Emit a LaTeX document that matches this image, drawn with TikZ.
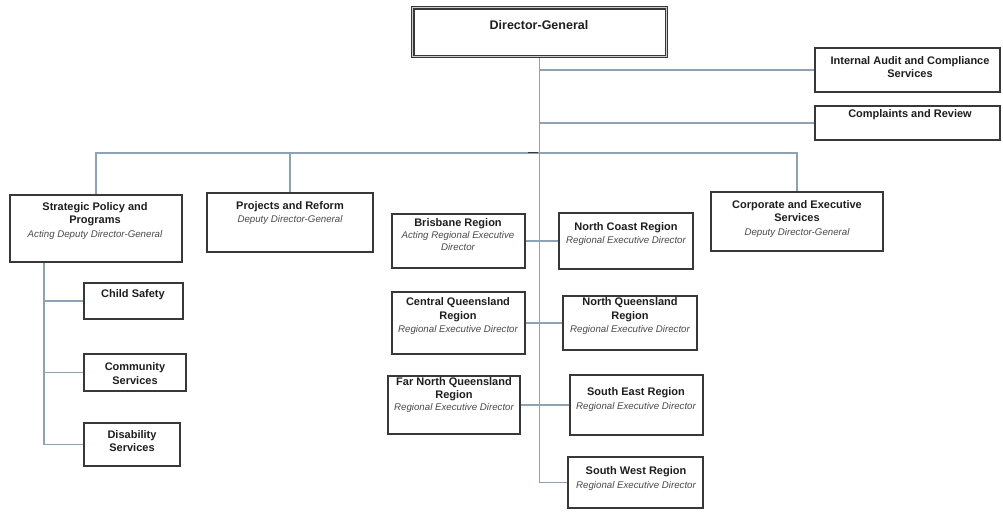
\documentclass[tikz,border=0pt]{standalone}
\usepackage{fontspec}
\setmainfont{Liberation Sans}
\definecolor{linkblue}{HTML}{8EA2B3}
\definecolor{boxline}{HTML}{383838}
\definecolor{headtext}{HTML}{1E1E1E}
\definecolor{roletext}{HTML}{4A4A4A}
\newcommand\unit[1]{{\fontsize{11}{13.5}\selectfont\bfseries\color{headtext}#1}}
\newcommand\role[1]{{\fontsize{9.7}{13.5}\selectfont\itshape\color{roletext}#1}}
\tikzset{
  orgbox/.style={draw=boxline, line width=1.1pt, fill=white, inner sep=0pt},
  topbox/.style={draw=boxline, line width=0.8pt, double=gray!40, double distance=1.4pt, fill=white, inner sep=0pt},
  txt/.style={align=center, inner sep=0pt, font=\fontsize{11}{13.5}\selectfont},
  link/.style={draw=linkblue, line width=1.3pt}
}
\begin{document}
\begin{tikzpicture}[x=1pt,y=-1pt]
\useasboundingbox (0,0) rectangle (1003,512);

% junction points of the reporting lines
\coordinate (bus) at (539,153);
\coordinate (lstem) at (44,262);

% boxes
\node[topbox, minimum width=253pt, minimum height=48pt] (dg) at (539.5,32) {};
\node[orgbox, minimum width=185pt, minimum height=44pt] (audit) at (907.5,70) {};
\node[orgbox, minimum width=185pt, minimum height=34pt] (compl) at (907.5,123) {};
\node[orgbox, minimum width=172pt, minimum height=67pt] (spp) at (96,228.5) {};
\node[orgbox, minimum width=166pt, minimum height=59pt] (proj) at (290,222.5) {};
\node[orgbox, minimum width=172pt, minimum height=59pt] (corp) at (797,221.5) {};
\node[orgbox, minimum width=133pt, minimum height=54pt] (bris) at (458.5,241) {};
\node[orgbox, minimum width=134pt, minimum height=56pt] (ncoast) at (626,241) {};
\node[orgbox, minimum width=133pt, minimum height=62pt] (cq) at (458.5,323) {};
\node[orgbox, minimum width=134pt, minimum height=54pt] (nq) at (630,323) {};
\node[orgbox, minimum width=132pt, minimum height=58pt] (fnq) at (454,405) {};
\node[orgbox, minimum width=133pt, minimum height=60pt] (se) at (636.5,405) {};
\node[orgbox, minimum width=135pt, minimum height=51pt] (sw) at (635.5,482.5) {};
\node[orgbox, minimum width=99pt, minimum height=36pt] (child) at (133.5,301) {};
\node[orgbox, minimum width=102pt, minimum height=37pt] (comm) at (135,372.5) {};
\node[orgbox, minimum width=96pt, minimum height=43pt] (dis) at (132,444.5) {};

% reporting lines
\path[link] (dg.south) |- (sw.west);
\path[link] (audit.west -| dg.south) -- (audit.west);
\path[link] (compl.west -| dg.south) -- (compl.west);
\path[link] (spp.north) |- (bus) -| (corp.north);
\path[link] (proj.north |- bus) -- (proj.north);
\path[link] (bris.east) -- (ncoast.west);
\path[link] (cq.east) -- (nq.west);
\path[link] (fnq.east) -- (se.west);
\path[link] (lstem) |- (dis.west);
\path[link] (child.west -| lstem) -- (child.west);
\path[link] (comm.west -| lstem) -- (comm.west);

% small dark mark on the bus beside the trunk
\coordinate (tickA) at (528,152);
\coordinate (tickB) at (538,152);
\draw[boxline, line width=0.9pt] (tickA) -- (tickB);

% box outlines drawn again over the line ends
\foreach \b in {audit,compl,spp,proj,corp,bris,ncoast,cq,nq,fnq,se,sw,child,comm,dis}
  \draw[boxline, line width=1.1pt] (\b.north west) rectangle (\b.south east);
\draw[boxline, line width=0.8pt, double=gray!40, double distance=1.4pt] (dg.north west) rectangle (dg.south east);

% labels
\node[txt] (dgt) at (539,25) {{\fontsize{12.5}{14}\selectfont\bfseries\color{headtext}Director-General}};
\node[txt] (auditt) at (910,67) {\unit{Internal Audit and Compliance}\\\unit{Services}};
\node[txt] (complt) at (910,115) {\unit{Complaints and Review}};
\node[txt] (sppt) at (95,221) {\unit{Strategic Policy and}\\\unit{Programs}\\\role{Acting Deputy Director-General}};
\node[txt] (projt) at (290,213) {\unit{Projects and Reform}\\\role{Deputy Director-General}};
\node[txt] (corpt) at (797,219) {\unit{Corporate and Executive}\\\unit{Services}\\\role{Deputy Director-General}};
\node[txt, font=\fontsize{11}{12}\selectfont] (brist) at (458,235) {\unit{Brisbane Region}\\\role{Acting Regional Executive}\\\role{Director}};
\node[txt] (ncoastt) at (626,234) {\unit{North Coast Region}\\\role{Regional Executive Director}};
\node[txt] (cqt) at (458,316.5) {\unit{Central Queensland}\\\unit{Region}\\\role{Regional Executive Director}};
\node[txt] (nqt) at (630,316.5) {\unit{North Queensland}\\\unit{Region}\\\role{Regional Executive Director}};
\node[txt, font=\fontsize{11}{12.5}\selectfont] (fnqt) at (454,395.5) {\unit{Far North Queensland}\\\unit{Region}\\\role{Regional Executive Director}};
\node[txt] (set) at (636,399.5) {\unit{South East Region}\\\role{Regional Executive Director}};
\node[txt] (swt) at (636,478.5) {\unit{South West Region}\\\role{Regional Executive Director}};
\node[txt] (childt) at (133,295) {\unit{Child Safety}};
\node[txt] (commt) at (135,373.5) {\unit{Community}\\\unit{Services}};
\node[txt] (dist) at (132,441) {\unit{Disability}\\\unit{Services}};
\end{tikzpicture}
\end{document}
